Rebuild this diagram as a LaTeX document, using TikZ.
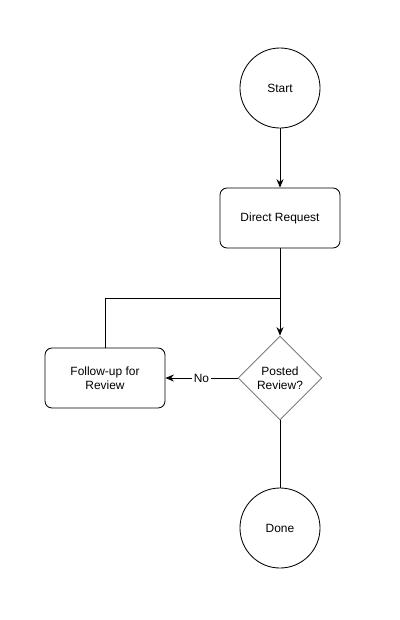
\documentclass[tikz,border=0pt]{standalone}
\usepackage{fontspec}
\setmainfont{Liberation Sans}
\usetikzlibrary{arrows.meta,shapes.geometric}
\definecolor{ink}{HTML}{000000}
\definecolor{edge}{HTML}{7A7A7A}
\tikzset{
  flow/.style={line width=0.6pt, draw=ink},
  arr/.style={flow, -{Stealth[length=6pt,width=5pt]}},
  term/.style={circle, draw=ink, line width=0.6pt, minimum size=2cm, inner sep=0pt, font=\fontsize{8.5}{10}\selectfont},
  proc/.style={rectangle, rounded corners=5pt, draw=ink, line width=0.6pt, minimum width=3cm, minimum height=1.5cm, align=center, font=\fontsize{8.5}{10}\selectfont},
  test/.style={diamond, draw=edge, line width=0.6pt, minimum width=2.1cm, minimum height=2.1cm, inner sep=0pt, align=center, font=\fontsize{8.5}{10}\selectfont},
  lab/.style={fill=white, inner sep=1pt, font=\fontsize{8.5}{10}\selectfont}
}
\begin{document}
\begin{tikzpicture}[x=0.025cm, y=-0.025cm]
  \useasboundingbox (0,0) rectangle (400,620);

  \node[term] (start) at (280,88) {Start};
  \node[proc] (ask) at (280,218) {Direct Request};
  \node[test] (posted) at (280,378) {Posted\\Review?};
  \node[proc] (follow) at (105,378) {Follow-up for\\Review};
  \node[term] (done) at (280,528) {Done};
  \coordinate (join) at (280,298);

  \draw[arr] (start) -- (ask);
  \draw[arr] (ask) -- (posted);
  \draw[flow] (follow.north) |- (join);
  \draw[arr] (posted) -- node[lab] {No} (follow);
  \draw[flow] (posted) -- (done);
\end{tikzpicture}
\end{document}
